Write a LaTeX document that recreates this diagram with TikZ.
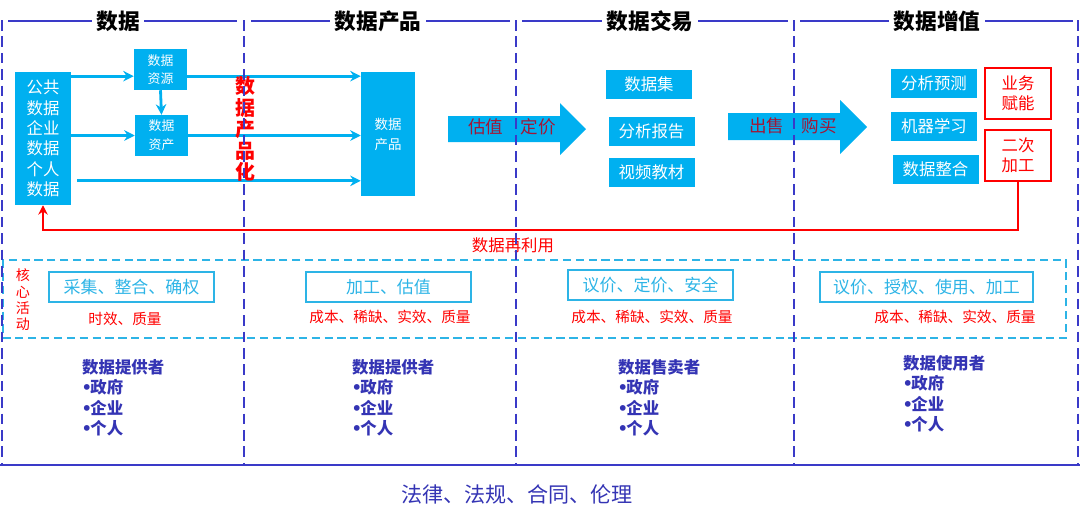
\documentclass[tikz,border=0pt]{standalone}
\usepackage{fontspec}
\setmainfont{Noto Sans CJK SC}
\newfontfamily\bulletfont{DejaVu Sans}
\newcommand\rolebullet{{\bulletfont\kern-0.5pt•\kern-1.5pt}}
\usetikzlibrary{arrows.meta}
\definecolor{boxcyan}{HTML}{00B0F0}
\definecolor{lineblue}{HTML}{3A3AC8}
\definecolor{roleblue}{HTML}{3434B4}
\definecolor{dealred}{HTML}{A01838}
\definecolor{actcyan}{HTML}{2DB4E6}
\tikzset{
  cyanbox/.style={fill=boxcyan, text=white, inner sep=0pt, align=center},
  tradebox/.style={cyanbox, minimum width=2.58cm, minimum height=0.87cm, font=\fontsize{14}{16}\selectfont},
  redbox/.style={draw=red, line width=0.9pt, text=red, inner sep=0pt, align=center,
    minimum width=1.98cm, minimum height=1.53cm, font=\fontsize{14}{17}\selectfont},
  actbox/.style={draw=actcyan, line width=0.9pt, text=actcyan, inner sep=0pt,
    minimum height=0.9cm, font=\fontsize{14.5}{16}\selectfont},
  redtext/.style={text=red, font=\fontsize{12.5}{14}\selectfont},
  roletext/.style={anchor=north west, align=left, text=roleblue, inner sep=0pt,
    font=\fontsize{14}{17.4}\selectfont\bfseries},
  coltitle/.style={fill=white, inner xsep=4pt, font=\fontsize{18.5}{20}\selectfont\bfseries},
  flow/.style={draw=boxcyan, line width=2.4pt, -{Stealth[length=9pt,width=9pt]}},
  reuse/.style={draw=red, line width=2.4pt, -{Stealth[length=8pt,width=8pt]}},
  colline/.style={lineblue, line width=1.7pt, dash pattern=on 9pt off 5pt},
  topline/.style={lineblue, line width=1.3pt},
  coreframe/.style={actcyan, line width=1.3pt, dash pattern=on 7pt off 4pt},
  bigarrow/.style={fill=boxcyan}
}
\begin{document}
\begin{tikzpicture}[x=0.03cm, y=-0.03cm]
\useasboundingbox (0,0) rectangle (1080,520);

\draw[topline] (8,21) -- (237,21);
\draw[topline] (251,21) -- (510,21);
\draw[topline] (522,21) -- (788,21);
\draw[topline] (800,21) -- (1073,21);
\node[coltitle] (t1) at (118,21) {数据};
\node[coltitle] (t2) at (378,21) {数据产品};
\node[coltitle] (t3) at (650,21) {数据交易};
\node[coltitle] (t4) at (937,21) {数据增值};

% data sources
\node[cyanbox, minimum width=1.68cm, minimum height=3.99cm, font=\fontsize{14}{17.3}\selectfont]
  (pub) at (43,138.5) {公共\\数据\\企业\\数据\\个人\\数据};
\node[cyanbox, minimum width=1.59cm, minimum height=1.23cm, font=\fontsize{11}{16}\selectfont]
  (res) at (160.5,69.5) {数据\\资源};
\node[cyanbox, minimum width=1.59cm, minimum height=1.23cm, font=\fontsize{11}{16}\selectfont]
  (asset) at (161.5,135.5) {数据\\资产};
\node[cyanbox, minimum width=1.62cm, minimum height=3.72cm, font=\fontsize{11.5}{17}\selectfont]
  (prod) at (388,134) {数据\\产品};

\draw[flow] ([yshift=-0.2cm]pub.north east |- res.east) -- ([yshift=-0.2cm]res.west);
\draw[flow] ([yshift=-0.2cm]res.east) -- ([yshift=-0.2cm]prod.west |- res.east);
\draw[flow] (res.south) -- (asset.north);
\draw[flow] (pub.east |- asset.west) -- (asset.west);
\draw[flow] (asset.east) -- (prod.west |- asset.east);
\draw[flow] ([xshift=0.18cm,yshift=-1.27cm]pub.east) -- ([yshift=-1.27cm]prod.west |- pub.east);

\node[text=red, align=center, inner sep=0pt, font=\fontsize{17}{18.3}\selectfont\bfseries]
  (productize) at (245,129) {数\\据\\产\\品\\化};

% trading
\fill[bigarrow] (448,116) -- (560,116) -- (560,103) -- (586,129) -- (560,155) -- (560,142) -- (448,142) -- cycle;
\node[text=dealred, font=\fontsize{15}{17}\selectfont] (price) at (512,127) {估值\hspace{1em}定价};
\fill[bigarrow] (728,113) -- (840,113) -- (840,100) -- (867,127) -- (840,154) -- (840,140) -- (728,140) -- cycle;
\node[text=dealred, font=\fontsize{15}{17}\selectfont] (sell) at (793,126) {出售\hspace{1em}购买};

\node[tradebox] (set) at (649,84.5) {数据集};
\node[tradebox] (report) at (651.5,131.5) {分析报告};
\node[tradebox] (video) at (651.5,172.5) {视频教材};

\node[tradebox] (forecast) at (934,83.5) {分析预测};
\node[tradebox] (ml) at (934,126.5) {机器学习};
\node[tradebox] (merge) at (935.5,169.5) {数据整合};
\node[redbox] (enable) at (1018,93.5) {业务\\赋能};
\node[redbox] (twice) at (1018,155.5) {二次\\加工};

\coordinate (turn) at (43,230);
\draw[reuse] (twice.south) |- (turn) -- (pub.south);
\node[text=red, font=\fontsize{14}{16}\selectfont] (reuselabel) at (513,245) {数据再利用};

% core activities
\draw[coreframe] (3,260) rectangle (1066,338);
\node[text=red, align=center, inner sep=0pt, font=\fontsize{12}{14}\selectfont]
  (core) at (23,300) {核\\心\\活\\动};
\node[actbox, minimum width=4.95cm] (act1) at (131.5,287) {采集、整合、确权};
\node[actbox, minimum width=4.95cm] (act2) at (388.5,287) {加工、估值};
\node[actbox, minimum width=4.95cm] (act3) at (650.5,285) {议价、定价、安全};
\node[actbox, minimum width=6.39cm] (act4) at (926.5,287) {议价、授权、使用、加工};
\node[redtext] (need1) at (125,319) {时效、质量};
\node[redtext] (need2) at (390,317) {成本、稀缺、实效、质量};
\node[redtext] (need3) at (652,317) {成本、稀缺、实效、质量};
\node[redtext] (need4) at (955,317) {成本、稀缺、实效、质量};

% roles
\node[roletext] (role1) at (82,359) {数据提供者\\\rolebullet 政府\\\rolebullet 企业\\\rolebullet 个人};
\node[roletext] (role2) at (352,359) {数据提供者\\\rolebullet 政府\\\rolebullet 企业\\\rolebullet 个人};
\node[roletext] (role3) at (618,359) {数据售卖者\\\rolebullet 政府\\\rolebullet 企业\\\rolebullet 个人};
\node[roletext] (role4) at (903,355) {数据使用者\\\rolebullet 政府\\\rolebullet 企业\\\rolebullet 个人};

\draw[colline] (2,20) -- (2,465);
\draw[colline] (244,20) -- (244,465);
\draw[colline] (516,20) -- (516,465);
\draw[colline] (794,20) -- (794,465);
\draw[colline] (1078,20) -- (1078,465);

\draw[lineblue, line width=1.8pt] (0,465) -- (1080,465);
\node[text=roleblue, font=\fontsize{18}{20}\selectfont] (law) at (517,494) {法律、法规、合同、伦理};
\end{tikzpicture}
\end{document}
